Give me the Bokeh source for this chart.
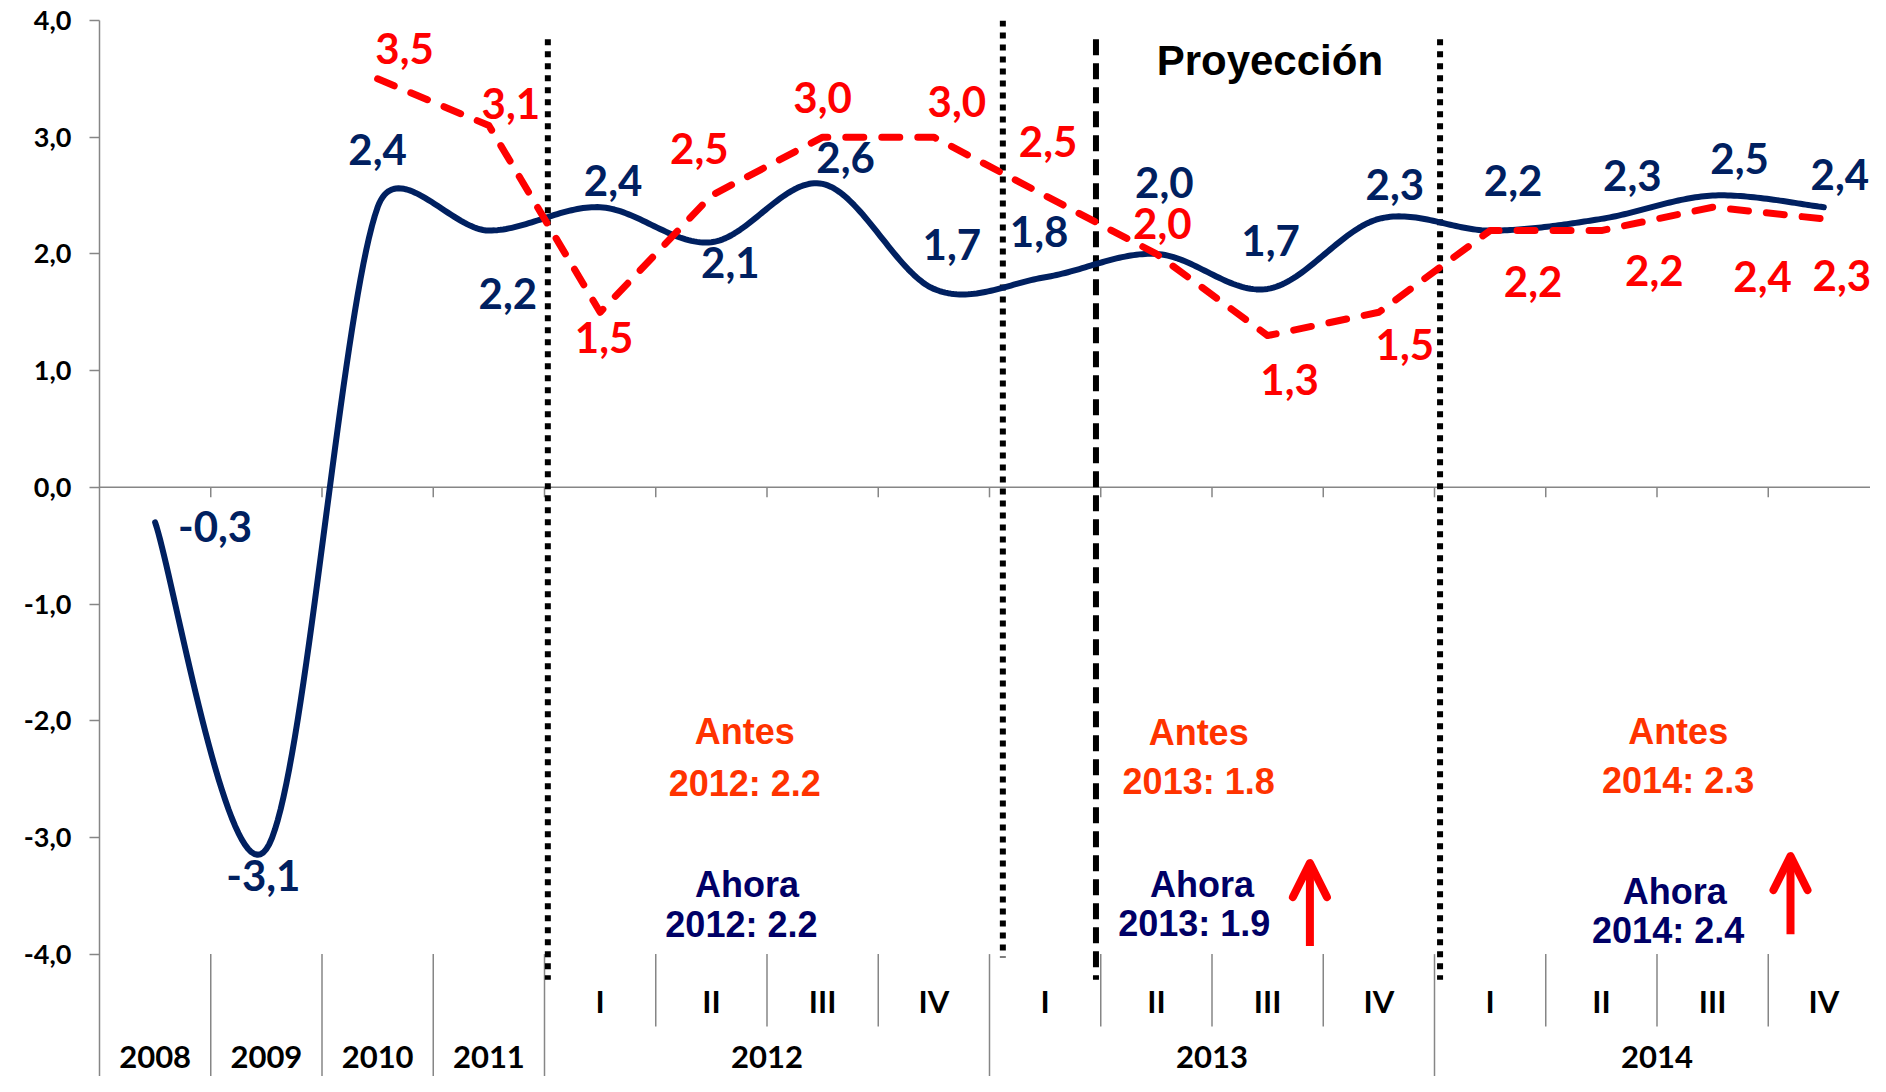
import numpy as np
from bokeh.plotting import figure
from bokeh.models import FixedTicker, CustomJSTickFormatter, Arrow, OpenHead, ColumnDataSource
from bokeh.core.properties import value
from bokeh.embed import file_html
from bokeh.resources import INLINE

# ---------------- data ----------------
categories = ["2008", "2009", "2010", "2011",
              "I", "II", "III", "IV", "I", "II", "III", "IV", "I", "II", "III", "IV"]
years = ["2008", "2009", "2010", "2011", "2012", "2013", "2014"]
year_start = [0, 1, 2, 3, 4, 8, 12]
year_end = [1, 2, 3, 4, 8, 12, 16]
quarter_idx = list(range(4, 16))

ahora = [-0.3, -3.1, 2.4, 2.2, 2.4, 2.1, 2.6, 1.7, 1.8, 2.0, 1.7, 2.3, 2.2, 2.3, 2.5, 2.4]
antes = [None, None, 3.5, 3.1, 1.5, 2.5, 3.0, 3.0, 2.5, 2.0, 1.3, 1.5, 2.2, 2.2, 2.4, 2.3]

y_ticks = [-4, -3, -2, -1, 0, 1, 2, 3, 4]

antes_years = ["2012: 2.2", "2013: 1.8", "2014: 2.3"]
ahora_years = ["2012: 2.2", "2013: 1.9", "2014: 2.4"]

# ---------------- layout / style (not data) ----------------
W, H = 1870, 1076
LEFT, TOP = 99, 20
PX_X = 111.25
PX_Y = 116.7
X_END = (W - LEFT) / PX_X
Y_TOP = 4.0
Y_BOT = Y_TOP - (H - TOP) / PX_Y

NAVY = "#002060"
RED = "#FF0000"
ORANGE = "#FF3300"
DNAVY = "#000066"
GRAY = "#868686"

ahora_off_x = [60, -3, 0, 19, 13, 19, 23, 18, -6, 8, 3, 16, 23, 31, 27, 16]
ahora_off_y = [4, 26, -58, 63, -27, 20, -26, -44, -46, -71, -48, -34, -50, -43, -37, -33]
antes_off_x = [0, 0, 27, 22, 4, -12, 0, 23, 3, 6, 22, 26, 43, 53, 50, 18]
antes_off_y = [0, 0, -30, -22, 25, -47, -40, -36, -54, -30, 44, 32, 51, 40, 69, 57]

dotted_x = [4.03, 8.12, 12.05]
dotted_y0 = [3.84, 4.0, 3.84]
dotted_y1 = [-4.22, -4.03, -4.22]
dashed_x = [8.957]
dashed_y0 = [3.84]
dashed_y1 = [-4.22]

box_x = [5.80, 9.88, 14.19]
antes_y = [-2.09, -2.10, -2.09]
antes_val_y = [-2.54, -2.52, -2.51]
ahora_y = [-3.40, -3.40, -3.46]
ahora_val_y = [-3.75, -3.74, -3.80]
arrow_x = [10.88, 15.20]
arrow_y0 = [-3.93, -3.83]
arrow_y1 = [-3.22, -3.16]
quarter_label_y = -4.40
year_label_y = -4.88


def fmt(v):
    return f"{v:.1f}".replace(".", ",")


def smooth(xs, ys, sx, sy, f=1 / 6, n=40):
    """Bezier smoothing similar to a spreadsheet 'smoothed line' (screen space)."""
    P = np.column_stack([np.asarray(xs, float) * sx, np.asarray(ys, float) * sy])
    m = len(P)
    cout = np.zeros_like(P)
    cin = np.zeros_like(P)
    for i in range(m):
        a = P[max(i - 1, 0)]
        b = P[min(i + 1, m - 1)]
        v = b - a
        nv = np.linalg.norm(v)
        vh = v / nv if nv > 0 else v
        L = nv * f
        d01 = np.linalg.norm(P[i] - a)
        d12 = np.linalg.norm(b - P[i])
        cout[i] = P[i] + vh * min(L, d12 / 2)
        cin[i] = P[i] - vh * min(L, d01 / 2)
    s = np.linspace(0, 1, n)[:, None]
    segs = []
    for i in range(m - 1):
        B = ((1 - s) ** 3) * P[i] + 3 * (1 - s) ** 2 * s * cout[i] \
            + 3 * (1 - s) * s ** 2 * cin[i + 1] + s ** 3 * P[i + 1]
        segs.append(B if i == 0 else B[1:])
    B = np.vstack(segs)
    return B[:, 0] / sx, B[:, 1] / sy


p = figure(width=W, height=H, x_range=(0, X_END), y_range=(Y_BOT, Y_TOP),
           output_backend="svg", toolbar_location=None, x_axis_location=None,
           min_border_left=LEFT, min_border_right=0, min_border_top=TOP, min_border_bottom=0,
           background_fill_color="white", border_fill_color="white")
p.outline_line_color = None
p.grid.visible = False

ya = p.yaxis[0]
ya.ticker = FixedTicker(ticks=y_ticks)
ya.formatter = CustomJSTickFormatter(code="return tick.toFixed(1).replace('.', ',');")
ya.axis_line_color = GRAY
ya.axis_line_width = 1.5
ya.major_tick_line_color = GRAY
ya.major_tick_line_width = 1.5
ya.major_tick_in = 0
ya.major_tick_out = 10
ya.minor_tick_line_color = None
ya.major_label_text_font = "Lato"
ya.major_label_text_font_style = "bold"
ya.major_label_text_font_size = "27px"
ya.major_label_text_color = "black"
ya.major_label_standoff = 18

# zero line with ticks
p.segment(x0=[0], y0=[0], x1=[16], y1=[0], line_color=GRAY, line_width=1.5)
tick_x = list(range(1, 17))
p.segment(x0=tick_x, y0=[0] * 16, x1=tick_x, y1=[-10 / PX_Y] * 16, line_color=GRAY, line_width=1.5)

# category separators in label zone
long_sep = [1, 2, 3, 4, 8, 12, 16]
short_sep = [5, 6, 7, 9, 10, 11, 13, 14, 15]
p.segment(x0=long_sep, y0=[-4] * len(long_sep), x1=long_sep, y1=[Y_BOT - 1] * len(long_sep),
          line_color=GRAY, line_width=1.5)
p.segment(x0=short_sep, y0=[-4] * len(short_sep), x1=short_sep, y1=[-4.62] * len(short_sep),
          line_color=GRAY, line_width=1.5)

# vertical period lines
p.segment(x0=dotted_x, y0=dotted_y0, x1=dotted_x, y1=dotted_y1, line_color="black",
          line_width=6, line_dash="6 6")
p.segment(x0=dashed_x, y0=dashed_y0, x1=dashed_x, y1=dashed_y1, line_color="black",
          line_width=6, line_dash="16 8")

# series
xc = np.arange(16) + 0.5
sx_, sy_ = smooth(xc, ahora, PX_X, PX_Y)
p.line(sx_, sy_, line_color=NAVY, line_width=6, line_join="round", line_cap="round")

ai = [i for i, v in enumerate(antes) if v is not None]
p.line([xc[i] for i in ai], [antes[i] for i in ai], line_color=RED, line_width=7,
       line_dash="18 18", line_cap="round", line_join="round")

# data labels
src_a = ColumnDataSource(dict(x=xc, y=ahora, t=[fmt(v) for v in ahora],
                              dx=ahora_off_x, dy=ahora_off_y))
p.text(x="x", y="y", text="t", x_offset="dx", y_offset="dy", source=src_a,
       text_font=value("Lato"), text_font_style="bold", text_font_size=value("42px"),
       text_color=NAVY, text_align="center", text_baseline="middle")
src_r = ColumnDataSource(dict(x=[xc[i] for i in ai], y=[antes[i] for i in ai],
                              t=[fmt(antes[i]) for i in ai],
                              dx=[antes_off_x[i] for i in ai], dy=[antes_off_y[i] for i in ai]))
p.text(x="x", y="y", text="t", x_offset="dx", y_offset="dy", source=src_r,
       text_font=value("Lato"), text_font_style="bold", text_font_size=value("42px"),
       text_color=RED, text_align="center", text_baseline="middle")

# Proyección
p.text(x=[10.52], y=[3.66], text=["Proyección"], text_font=value("Liberation Sans"),
       text_font_style="bold", text_font_size=value("42px"), text_color="black",
       text_align="center", text_baseline="middle")

# Antes / Ahora boxes
common = dict(text_font=value("Liberation Sans"), text_font_style="bold",
              text_font_size=value("36px"), text_align="center", text_baseline="middle")
p.text(x=box_x, y=antes_y, text=["Antes"] * 3, text_color=ORANGE, **common)
p.text(x=box_x, y=antes_val_y, text=antes_years, text_color=ORANGE, **common)
p.text(x=[box_x[0] + 0.02, box_x[1] + 0.03, box_x[2] - 0.03], y=ahora_y, text=["Ahora"] * 3,
       text_color=DNAVY, **common)
p.text(x=[box_x[0] - 0.03, box_x[1] - 0.04, box_x[2] - 0.09], y=ahora_val_y, text=ahora_years,
       text_color=DNAVY, **common)

# arrows
for ax_, a0, a1 in zip(arrow_x, arrow_y0, arrow_y1):
    p.add_layout(Arrow(x_start=ax_, y_start=a0, x_end=ax_, y_end=a1,
                       line_color=RED, line_width=8,
                       end=OpenHead(size=34, line_color=RED, line_width=8,
                                    line_cap="round", line_join="round")))

# category labels
qx = [i + 0.5 for i in quarter_idx]
p.text(x=qx, y=[quarter_label_y] * len(qx), text=[categories[i] for i in quarter_idx],
       text_font=value("Lato"), text_font_style="bold", text_font_size=value("31px"),
       text_color="black", text_align="center", text_baseline="middle")
yx = [(a + b) / 2 for a, b in zip(year_start, year_end)]
p.text(x=yx, y=[year_label_y] * len(yx), text=years,
       text_font=value("Lato"), text_font_style="bold", text_font_size=value("31px"),
       text_color="black", text_align="center", text_baseline="middle")

open("out.html", "w").write(file_html(p, INLINE))
